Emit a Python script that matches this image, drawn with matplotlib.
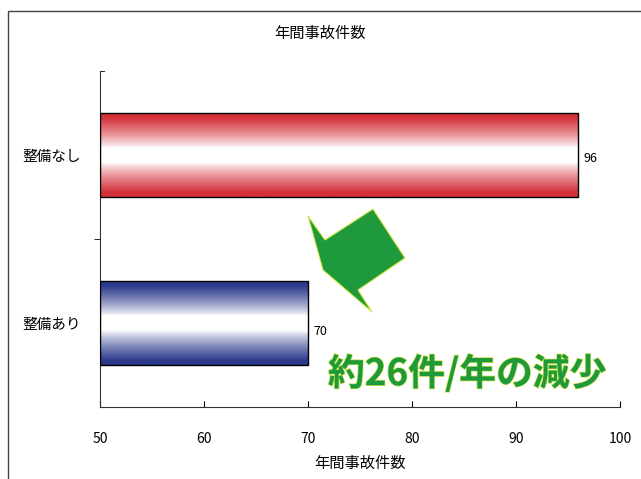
import numpy as np
import matplotlib
matplotlib.use("Agg")
import matplotlib.pyplot as plt
from matplotlib.patches import Polygon, Rectangle
from matplotlib.colors import LinearSegmentedColormap
import matplotlib.patheffects as pe

plt.rcParams['font.family'] = ['Noto Sans CJK JP', 'DejaVu Sans']

# data
categories = ['整備あり', '整備なし']
counts = [70, 96]
bar_colors = ['#2c3a8c', '#d4303a']
title = '年間事故件数'
xlabel = '年間事故件数'
note = '約26件/年の減少'
xticks = [50, 60, 70, 80, 90, 100]

fig = plt.figure(figsize=(6.41, 4.79), dpi=100)
ax = fig.add_axes([100/641, 1-407/479, 520/641, 336/479])

# outer frame of the chart area
fig.patches.append(Rectangle((8/641, -0.1), 1.2, 1-11/479+0.1, transform=fig.transFigure,
                             fill=False, edgecolor='#444444', lw=1.0))

# vertical profile: colour at top and bottom edges, white in the middle
t = np.linspace(0, 1, 200)
prof = np.clip((np.abs(t - 0.5) * 2 - 0.18) / 0.72, 0, 1) ** 0.8
prof = prof[:, None]

bar_h = 0.5
for i, (cat, val, col) in enumerate(zip(categories, counts, bar_colors)):
    bar = ax.barh(i, val - 50, left=50, height=bar_h, color='none',
                  edgecolor='black', lw=1.0, zorder=3)[0]
    cmap = LinearSegmentedColormap.from_list('g', ['white', col])
    im = ax.imshow(prof, cmap=cmap, vmin=0, vmax=1, aspect='auto',
                   extent=[50, val, i - bar_h/2, i + bar_h/2], zorder=2,
                   interpolation='bilinear')
    im.set_clip_path(bar)
    ax.text(val + 0.5, i - 0.02 if i == 1 else i - 0.05, str(val), va='center', ha='left', fontsize=9)

ax.set_xlim(50, 100)
ax.set_ylim(-0.5, 1.5)
ax.set_xticks(xticks)
ax.set_yticks([0, 1])
ax.set_yticklabels(categories, fontsize=10.5)
ax.set_yticks([0.5], minor=True)
ax.tick_params(axis='y', which='major', length=0, pad=14)
ax.tick_params(axis='y', which='minor', length=4, direction='out')
ax.tick_params(axis='x', direction='in', length=4, pad=18, labelsize=10)
for s in ['top', 'right']:
    ax.spines[s].set_visible(False)
ax.spines['left'].set_color('#333333')
ax.spines['bottom'].set_color('#333333')
# short cap at the top of the value axis
ax.plot([0, 0.008], [1, 1], transform=ax.transAxes, color='#333333', lw=0.8, clip_on=False)

ax.set_xlabel(xlabel, fontsize=11, labelpad=6)
fig.text(320/641, 1-33/479, title, ha='center', va='center', fontsize=11)

# green arrow pointing from the longer bar down to the shorter one
arrow_px = [(323, 270), (308, 216), (325, 240), (373, 209),
            (405, 258), (358, 290), (372, 312)]
arrow_pts = [(x/641, 1 - y/479) for x, y in arrow_px]
fig.patches.append(Polygon(arrow_pts, closed=True, transform=fig.transFigure,
                           facecolor='#1e9a3c', edgecolor='#d8e84a', lw=0.8))

fig.text(467/641, 1-374/479, note, ha='center', va='center', fontsize=26.5,
         fontweight='bold', color='#1e9a3c',
         path_effects=[pe.withStroke(linewidth=1.0, foreground='#c8e040')])

fig.savefig('out.png', dpi=100)
